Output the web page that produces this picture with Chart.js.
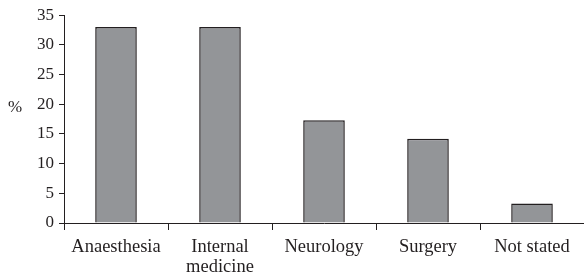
<!DOCTYPE html>
<html>
<head>
<meta charset="utf-8">
<script src="https://cdn.jsdelivr.net/npm/chart.js@4/dist/chart.umd.min.js"></script>
<style>
  html, body { margin: 0; padding: 0; background: #fff; }
  #wrap { width: 584px; height: 278px; position: relative; }
</style>
</head>
<body>
<div id="wrap"><canvas id="c"></canvas></div>
<script>
// Specialty of respondents (%)
const categories = ['Anaesthesia', ['Internal', 'medicine'], 'Neurology', 'Surgery', 'Not stated'];
const percentages = [33, 33, 17.3, 14.2, 3.3];
const yTicks = [0, 5, 10, 15, 20, 25, 30, 35];

const ink = '#231f20';
const family = '"Liberation Serif", "Times New Roman", serif';
const xFont = { family: family, size: 18.5, lineHeight: 1.1 };
const yFont = { family: family, size: 17 };

Chart.defaults.font.family = family;
Chart.defaults.color = ink;

new Chart(document.getElementById('c'), {
  type: 'bar',
  data: {
    labels: categories,
    datasets: [{
      data: percentages,
      backgroundColor: '#939598',
      borderColor: ink,
      borderWidth: 1.5,
      barPercentage: 0.4,
      categoryPercentage: 1
    }]
  },
  options: {
    responsive: true, maintainAspectRatio: false, animation: false,
    layout: { padding: { top: 14, right: 0, bottom: 0, left: 0 } },
    plugins: { legend: { display: false }, tooltip: { enabled: false } },
    scales: {
      x: {
        offset: true,
        grid: { offset: true, drawOnChartArea: false, drawTicks: true, tickLength: 7, color: ink, lineWidth: 1 },
        border: { display: true, color: ink, width: 1 },
        ticks: { font: xFont, color: ink, padding: 7, maxRotation: 0, autoSkip: false },
        afterFit: s => { s.height = 55; }
      },
      y: {
        min: 0, max: 35,
        afterBuildTicks: s => { s.ticks = yTicks.map(v => ({ value: v })); },
        grid: { drawOnChartArea: false, drawTicks: true, tickLength: 5, color: ink, lineWidth: 1 },
        border: { display: true, color: ink, width: 1 },
        ticks: { font: yFont, color: ink, padding: 5 },
        afterFit: s => { s.width = 64; }
      }
    }
  },
  plugins: [{
    id: 'yTitle',
    afterDraw(chart) {
      const ctx = chart.ctx;
      const y = chart.scales.y;
      ctx.save();
      ctx.fillStyle = ink;
      ctx.font = yFont.size + 'px ' + family;
      ctx.textAlign = 'left';
      ctx.textBaseline = 'middle';
      ctx.fillText('%', 8, y.getPixelForValue(20) + 3);
      ctx.restore();
    }
  }]
});
</script>
</body>
</html>
